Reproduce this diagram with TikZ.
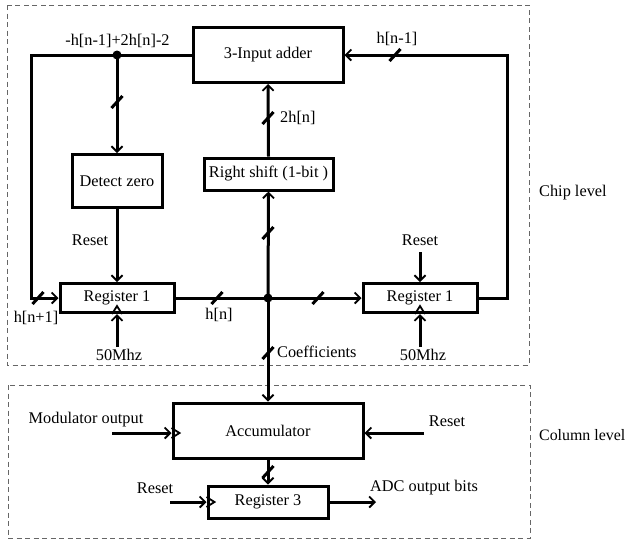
\documentclass[tikz,border=0pt]{standalone}
\usepackage{fontspec}
\setmainfont{Liberation Serif}
\usetikzlibrary{arrows.meta,calc}
\newcommand\myfs{\fontsize{16.3}{19}\selectfont}
\newcommand\slashat[1]{\draw[line width=3pt] (#1) ++(-5.5,6) -- ++(11,-12);}
\newcommand\clkup[1]{\draw[line width=1.8pt,line join=miter] ($(#1)+(-5,0)$) -- ++(5,-8) -- ++(5,8);}
\newcommand\clkright[1]{\draw[line width=1.8pt,line join=miter] ($(#1)+(0,-5)$) -- ++(8,5) -- ++(-8,5);}
\begin{document}
\begin{tikzpicture}[x=1pt,y=-1pt,
  box/.style={draw,line width=3pt,inner sep=0pt,font=\myfs},
  ln/.style={line width=3pt},
  arr/.style={line width=3pt,-{Straight Barb[length=5.5pt,width=11pt,line width=1.8pt]}},
  lbl/.style={font=\myfs,inner sep=0pt},
  dashbox/.style={draw=black!60,line width=1pt,dash pattern=on 5pt off 3.5pt},
  dot/.style={circle,fill=black,minimum size=9pt,inner sep=0pt}]
\useasboundingbox (0,0) rectangle (626,542);
% level boxes
\draw[dashbox] (7,5) rectangle (529,365);
\draw[dashbox] (8,385) rectangle (530,538);
\node[lbl,anchor=west] (chip) at (539,193) {Chip level};
\node[lbl,anchor=east,font=\fontsize{15.9}{19}\selectfont] (col) at (625.5,435) {Column level};
% blocks
\node[box,minimum width=150pt,minimum height=55pt] (adder) at (268,55) {3-Input adder};
\node[box,minimum width=90pt,minimum height=53pt] (detect) at (117,181) {Detect zero};
\node[box,minimum width=129pt,minimum height=32pt] (rshift) at (268.5,174) {Right shift (1-bit )};
\node[box,minimum width=114pt,minimum height=29pt] (reg1L) at (117,298) {Register 1};
\node[box,minimum width=114pt,minimum height=29pt] (reg1R) at (420,298) {Register 1};
\node[box,minimum width=190pt,minimum height=55pt] (acc) at (268,430.5) {Accumulator};
\node[box,minimum width=120pt,minimum height=32pt] (reg3) at (268,502) {Register 3};
% coordinates
\coordinate (j1) at (117,55);
\coordinate (j2) at (268,298);
\coordinate (lc1) at (31,55);
\coordinate (lc2) at (31,298);
\coordinate (rc1) at (507,298);
\coordinate (rc2) at (507,55);
\coordinate (clkL) at (117,347);
\coordinate (clkR) at (420,347);
\coordinate (rstR) at (420,252);
\coordinate (modin) at (112,433);
\coordinate (rstacc) at (424,433);
\coordinate (rst3) at (170,502);
\coordinate (adcout) at (376,502);
% connectors
\draw[arr,line join=miter] (adder.west) -- (lc1) -- (lc2) -- (reg1L.west);
\draw[arr] (j1) -- (detect.north);
\draw[arr] (detect.south) -- (reg1L.north);
\draw[ln] (reg1L.east) -- (j2);
\draw[arr] (j2) -- (reg1R.west);
\draw[arr] (j2) -- (rshift.south);
\draw[arr] (rshift.north) -- (adder.south);
\draw[arr] (j2) -- (acc.north);
\draw[arr,line join=miter] (reg1R.east) -- (rc1) -- (rc2) -- (adder.east);
\draw[arr] (clkL) -- (reg1L.south);
\draw[arr] (clkR) -- (reg1R.south);
\draw[arr] (rstR) -- (reg1R.north);
\draw[arr] (acc.south) -- (reg3.north);
\draw[arr] (modin) -- (modin -| acc.west);
\draw[arr] (rstacc) -- (rstacc -| acc.east);
\draw[arr] (rst3) -- (reg3.west);
\draw[arr] (reg3.east) -- (adcout);
\node[dot] (d1) at (j1) {};
\node[dot] (d2) at (j2) {};
% clock triangles
\clkup{reg1L.south}
\clkup{reg1R.south}
\clkright{modin -| acc.west}
\clkright{reg3.west}
% bus slashes
\slashat{117,102}
\slashat{268,118}
\slashat{268,233}
\slashat{268,353}
\slashat{38,298}
\slashat{217,298}
\slashat{318,298}
\slashat{395,55}
\slashat{268,472}
% labels
\node[lbl] (l1) at (117.5,41) {-h[n-1]+2h[n]-2};
\node[lbl] (l2) at (397,39) {h[n-1]};
\node[lbl,anchor=west] (l3) at (280,118) {2h[n]};
\node[lbl] (l4) at (90,240) {Reset};
\node[lbl] (l5) at (420,240) {Reset};
\node[lbl] (l6) at (36,318) {h[n+1]};
\node[lbl] (l7) at (219,315) {h[n]};
\node[lbl] (l8) at (119,355) {50Mhz};
\node[lbl] (l9) at (423,355) {50Mhz};
\node[lbl,anchor=west] (l10) at (277,352) {Coefficients};
\node[lbl] (l11) at (86,420) {Modulator output};
\node[lbl] (l12) at (447,421) {Reset};
\node[lbl] (l13) at (155,488) {Reset};
\node[lbl] (l14) at (424,488) {ADC output bits};
\end{tikzpicture}
\end{document}
